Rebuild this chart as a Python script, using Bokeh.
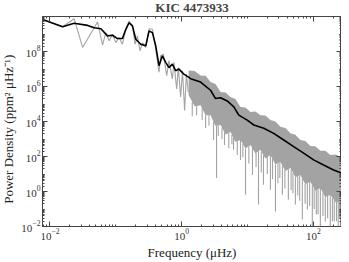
import numpy as np
from bokeh.plotting import figure
from bokeh.models import LogAxis, FixedTicker, Range1d, CustomJSTickFormatter
from bokeh.embed import file_html
from bokeh.resources import INLINE

# ---- data (frequency in muHz, power density in ppm^2/muHz) ----
# raw spectrum, low-frequency part
raw_freq = [0.00775, 0.01556, 0.0233, 0.0313, 0.0528, 0.0629, 0.0705, 0.0792, 0.0891, 0.100,
            0.112, 0.126, 0.142, 0.159, 0.179, 0.196, 0.213, 0.233, 0.254, 0.285,
            0.320, 0.360, 0.404, 0.453, 0.480, 0.528, 0.593, 0.642, 0.723, 0.764,
            0.840, 0.891, 0.966, 1.03, 1.11, 1.18, 1.26]
raw_power = [6.8e9, 2.6e9, 7.5e9, 1.7e8, 4.9e9, 2.3e8, 1.2e9, 4.1e8, 9.6e8, 3.2e8,
             6.3e8, 2.6e8, 1.85e9, 5.5e9, 2.9e9, 2.6e8, 7.8e8, 1.1e8, 3.2e8, 1.7e8,
             2.0e9, 1.85e9, 1.35e8, 6.5e6, 5.7e7, 7.1e7, 4.2e6, 3.0e7, 2.7e6, 2.4e7,
             7.2e5, 1.2e7, 2.5e5, 8.0e6, 4.3e4, 5.1e6, 4.7e5]

# raw spectrum, high-frequency part: upper and lower edge of the dense band
band_freq = [1.276, 1.574, 1.94, 2.31, 2.75, 3.27, 3.90, 4.64, 5.53, 6.58,
             7.83, 9.33, 11.1, 13.2, 15.7, 18.7, 22.3, 26.6, 31.6, 37.6,
             44.9, 53.4, 63.5, 75.6, 90.1, 107, 128, 152, 181, 223, 283]
band_upper = [8.3e6, 7.8e6, 4.3e6, 4.1e6, 1.8e6, 1.4e6, 4.9e5, 4.6e5, 2.5e5, 1.95e5,
              6.8e4, 6.4e4, 3.5e4, 3.7e4, 2.3e4, 2.2e4, 1.2e4, 1.0e4, 5.0e3, 4.2e3,
              2.1e3, 1.75e3, 880, 770, 400, 380, 216, 210, 123, 128, 70]
band_lower = [3.2e5, 7.5e4, 8.5e4, 2.3e4, 2.3e4, 5.5e3, 6.3e3, 1.8e3, 2.5e3, 675,
              880, 288, 460, 150, 240, 78, 123, 35, 49, 15,
              22, 6.5, 8.9, 2.6, 3.6, 1.1, 1.6, 0.47, 0.66, 0.22, 0.30]

# downward spikes of the raw spectrum
spike_freq = [1.45, 1.69, 2.05, 2.31, 2.6, 3.05, 3.39, 3.6, 4.1, 4.48,
              5.2, 5.8, 6.14, 7.0, 7.83, 8.5, 9.33, 10.5, 11.9, 13.5,
              14.7, 16.2, 17.5, 20.0, 22.3, 24.0, 26.6, 29.0, 31.0, 33.9,
              37.0, 41.8, 46.0, 49.0, 53.4, 58.0, 62.0, 68.1, 75.0, 81.1,
              88.0, 96.6, 103, 111, 118, 128, 140, 152, 165, 181,
              195, 208, 225, 239, 250, 262]
spike_power = [2.0e4, 2.3e4, 1.2e4, 4.2e3, 6.0e3, 880, 6.0, 1.5e3, 1.0e3, 460,
               300, 500, 240, 120, 64, 90, 0.66, 40, 8.9, 25,
               0.18, 12, 2.4, 10, 1.26, 5, 0.071, 3, 6, 0.66,
               1.5, 0.34, 1.2, 0.8, 0.18, 0.6, 0.3, 0.025, 0.2, 0.093,
               0.15, 0.01, 0.1, 0.048, 0.05, 0.01, 0.04, 0.019, 0.03, 0.01,
               0.02, 0.019, 0.02, 0.01, 0.03, 0.01]

# smoothed spectrum
smooth_freq = [0.00775, 0.01556, 0.0233, 0.0373, 0.0469, 0.0593, 0.0748, 0.0891, 0.106, 0.126,
               0.142, 0.159, 0.179, 0.201, 0.239, 0.285, 0.320, 0.360, 0.404, 0.453,
               0.510, 0.573, 0.642, 0.723, 0.811, 0.910, 1.08, 1.29, 1.37, 1.94,
               2.75, 3.27, 3.90, 4.92, 6.20, 7.38, 9.9, 12.5, 17.7, 25.0,
               35.5, 50.3, 71.3, 101, 143, 203, 272]
smooth_power = [6.8e9, 2.6e9, 4.1e9, 3.1e9, 2.3e9, 2.0e9, 7.8e8, 8.5e8, 5.5e8, 5.5e8,
                1.85e9, 4.4e9, 2.9e9, 5.0e8, 2.6e8, 2.1e8, 1.5e9, 1.2e9, 2.1e8, 1.55e7,
                5.7e7, 2.4e7, 1.2e7, 1.9e7, 8.0e6, 9.9e6, 5.1e6, 3.3e6, 2.8e6, 1.8e6,
                6.1e5, 2.05e5, 2.3e5, 1.5e5, 6.9e4, 2.3e4, 1.2e4, 6.3e3, 4.1e3, 2.1e3,
                880, 365, 155, 64, 33, 17, 11]

x_major = [1e-2, 1e0, 1e2]
y_major = [1e-2, 1e0, 1e2, 1e4, 1e6, 1e8]

FONT = "Liberation Serif"
GRAY = "#a3a3a3"
AXC = "#444444"

p = figure(width=349, height=270, output_backend="svg", toolbar_location=None,
           x_axis_type="log", y_axis_type="log",
           x_range=Range1d(0.0077, 268), y_range=Range1d(0.01, 1e10),
           min_border_left=50, min_border_right=0, min_border_top=24, min_border_bottom=35,
           margin=(-8, 0, -8, -8), title="KIC 4473933")
p.grid.visible = False
p.outline_line_color = AXC
p.background_fill_color = "white"

p.title.text_font = FONT
p.title.text_font_style = "bold"
p.title.text_font_size = "13px"
p.title.align = "center"
p.title.standoff = 3

# gray raw spectrum
p.line(raw_freq, raw_power, line_color=GRAY, line_width=1.1)
p.varea(x=band_freq, y1=band_lower, y2=band_upper, fill_color=GRAY)
lf = np.log10(band_freq)
spike_top = 10 ** np.interp(np.log10(spike_freq), lf, np.log10(band_lower))
p.segment(x0=spike_freq, y0=spike_top, x1=spike_freq, y1=spike_power,
          line_color=GRAY, line_width=1.1)

# black smoothed spectrum
p.line(smooth_freq, smooth_power, line_color="black", line_width=1.6)

minor_x = [m * 10.0 ** k for k in range(-3, 3) for m in range(1, 10)]
minor_y = [m * 10.0 ** k for k in range(-2, 10) for m in range(1, 10)]


def style(ax, ticks, minors):
    ax.ticker = FixedTicker(ticks=ticks, minor_ticks=minors)
    ax.axis_line_color = AXC
    ax.major_tick_line_color = AXC
    ax.minor_tick_line_color = AXC
    ax.major_tick_in = 5
    ax.major_tick_out = 0
    ax.minor_tick_in = 2
    ax.minor_tick_out = 0
    ax.major_label_text_font = FONT
    ax.major_label_text_font_size = "11px"
    ax.major_label_text_color = "#333333"
    ax.major_label_standoff = 2
    ax.axis_label_text_font = FONT
    ax.axis_label_text_font_size = "13px"
    ax.axis_label_text_font_style = "normal"
    ax.axis_label_text_color = "#222222"
    ax.axis_label_standoff = 2


xa = p.xaxis[0]
ya = p.yaxis[0]
xa.axis_label = "Frequency (μHz)"
ya.axis_label = "Power Density (ppm² μHz⁻¹)\u2002\u2002\u2009"
style(xa, x_major, minor_x)
style(ya, y_major, minor_y)

top = LogAxis()
right = LogAxis()
style(top, x_major, minor_x)
style(right, y_major, minor_y)
for ax in (top, right):
    ax.formatter = CustomJSTickFormatter(code="return '';")
    ax.major_label_standoff = 0
p.add_layout(top, "above")
p.add_layout(right, "right")

open("out.html", "w").write(file_html(p, INLINE))
